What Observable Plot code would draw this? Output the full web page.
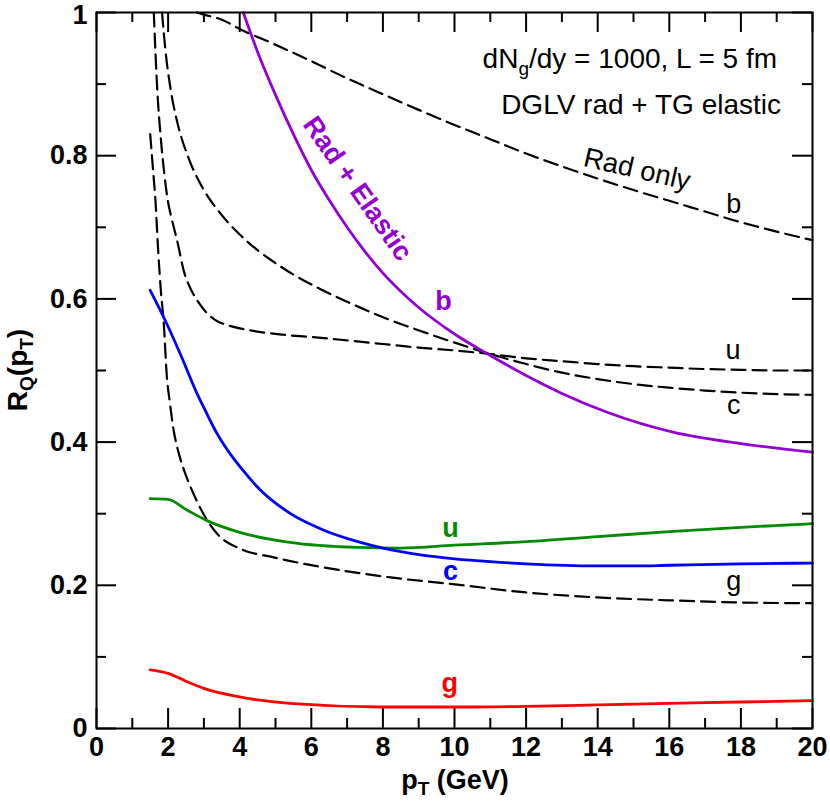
<!DOCTYPE html>
<html><head><meta charset="utf-8">
<script src="https://cdn.jsdelivr.net/npm/d3@7"></script>
<script src="https://cdn.jsdelivr.net/npm/@observablehq/plot@0.6"></script>
<style>body{margin:0;background:#fff} svg{display:block}</style>
</head><body><div id="chart"></div>
<script>
// ---- tick values ----
const xMajorTicks = [0, 2, 4, 6, 8, 10, 12, 14, 16, 18, 20];
const xMinorTicks = [1, 3, 5, 7, 9, 11, 13, 15, 17, 19];
const yMajorTicks = [0, 0.2, 0.4, 0.6, 0.8];
const yTopTick = [1];
const yMinorTicks = [0.1, 0.3, 0.5, 0.7, 0.9];

// ---- Rad only (dashed) ----
const radB_x = [2.8, 3.0, 3.5, 4, 5, 6, 7, 8, 9, 10, 11, 12, 13, 14, 15, 16, 17, 18, 19, 20];
const radB_y = [1.0, 0.997, 0.99, 0.977, 0.955, 0.932, 0.908, 0.886, 0.864, 0.843, 0.823, 0.803, 0.785, 0.768, 0.752, 0.737, 0.722, 0.707, 0.694, 0.682];

const radU_x = [1.6, 1.7, 1.8, 1.9, 2.0, 2.1, 2.25, 2.45, 2.65, 2.85, 3.05, 3.3, 3.75, 4.3, 5.2, 6.2, 7, 8, 9, 10, 11, 12, 13, 14, 15, 16, 17, 18, 19, 20];
const radU_y = [1.0, 0.89, 0.822, 0.772, 0.735, 0.712, 0.682, 0.637, 0.612, 0.595, 0.582, 0.571, 0.562, 0.556, 0.55, 0.546, 0.542, 0.537, 0.532, 0.528, 0.523, 0.517, 0.513, 0.509, 0.506, 0.504, 0.502, 0.501, 0.500, 0.500];

const radC_x = [1.83, 1.93, 2.07, 2.26, 2.57, 3.0, 3.5, 4.0, 4.5, 5.0, 5.5, 6.16, 7.09, 8.02, 8.95, 9.88, 10.8, 12, 13, 14, 15, 16, 17, 18, 19, 20];
const radC_y = [1.0, 0.945, 0.893, 0.846, 0.797, 0.752, 0.717, 0.690, 0.668, 0.650, 0.634, 0.616, 0.594, 0.574, 0.557, 0.541, 0.526, 0.509, 0.497, 0.488, 0.481, 0.476, 0.472, 0.469, 0.467, 0.466];

const radG_x = [1.5, 1.58, 1.65, 1.72, 1.8, 1.88, 1.96, 2.05, 2.15, 2.3, 2.45, 2.63, 2.83, 3.04, 3.37, 4.02, 4.95, 6.35, 8.21, 9.89, 12, 14, 16, 18, 20];
const radG_y = [0.83, 0.78, 0.735, 0.67, 0.61, 0.565, 0.495, 0.455, 0.418, 0.384, 0.36, 0.337, 0.315, 0.295, 0.272, 0.251, 0.239, 0.225, 0.211, 0.202, 0.190, 0.183, 0.179, 0.176, 0.175];

// ---- Rad + Elastic (solid) ----
const elB_x = [4.1, 4.5, 5.0, 5.5, 6.0, 6.5, 7.0, 7.5, 8.0, 9.0, 10, 11, 12, 13, 14.3, 16.1, 18, 20];
const elB_y = [1.0, 0.945, 0.885, 0.83, 0.78, 0.738, 0.700, 0.666, 0.636, 0.588, 0.551, 0.521, 0.493, 0.468, 0.441, 0.414, 0.398, 0.386];

const elC_x = [1.5, 1.88, 2.35, 2.77, 3.0, 3.3, 3.55, 3.8, 4.02, 4.5, 5.42, 6.35, 7.3, 8.0, 8.5, 9.1, 10, 11, 12, 14, 15, 16, 18, 20];
const elC_y = [0.612, 0.574, 0.522, 0.472, 0.448, 0.418, 0.397, 0.379, 0.365, 0.337, 0.30, 0.277, 0.261, 0.252, 0.247, 0.242, 0.237, 0.233, 0.230, 0.227, 0.227, 0.228, 0.230, 0.231];

const elU_x = [1.5, 2.0, 2.5, 3.1, 4.0, 5.4, 7.3, 8.5, 10, 12, 14, 16, 18, 20];
const elU_y = [0.321, 0.320, 0.306, 0.29, 0.274, 0.26, 0.253, 0.252, 0.256, 0.261, 0.268, 0.275, 0.281, 0.286];

const elG_x = [1.5, 2.0, 2.5, 3.0, 4.0, 5.4, 8, 10, 12, 14, 16, 18, 20];
const elG_y = [0.082, 0.077, 0.066, 0.056, 0.044, 0.035, 0.030, 0.030, 0.031, 0.033, 0.035, 0.037, 0.039];

// ---- curve labels ----
const solidLabelText = ["b", "u", "c", "g"];
const solidLabelX = [9.69, 9.89, 9.89, 9.87];
const solidLabelY = [0.596, 0.280, 0.220, 0.063];
const dashLabelText = ["b", "u", "c", "g"];
const dashLabelX = [17.8, 17.78, 17.8, 17.8];
const dashLabelY = [0.732, 0.528, 0.452, 0.206];

const PURPLE = "#9400D3", BLUE = "#0000FF", GREEN = "#008B00", RED = "#FF0000";
const solidColors = [PURPLE, GREEN, BLUE, RED];

const rows = (xs, ys) => xs.map((x, i) => ({x, y: ys[i]}));
const W = 830, H = 805, ML = 96, MR = 18, MT = 12, MB = 77;
const innerW = W - ML - MR, innerH = H - MT - MB;
const FONT = "'Liberation Sans', Arial, Helvetica, sans-serif";

const dashed = {stroke: "black", strokeWidth: 2.2, strokeDasharray: "14,7", curve: "monotone-x"};
const solid = (c) => ({stroke: c, strokeWidth: 2.8, curve: "monotone-x"});

const solidLabels = solidLabelText.map((t, i) => ({t, x: solidLabelX[i], y: solidLabelY[i], c: solidColors[i]}));
const dashLabels = dashLabelText.map((t, i) => ({t, x: dashLabelX[i], y: dashLabelY[i]}));

const tickFont = {tickSize: 0, tickFormat: d => String(d), fontSize: 27, fontWeight: "bold", label: null};

const plot = Plot.plot({
  width: W, height: H,
  marginLeft: ML, marginRight: MR, marginTop: MT, marginBottom: MB,
  style: {fontFamily: FONT, background: "white", color: "black", overflow: "visible"},
  x: {domain: [0, 20]},
  y: {domain: [0, 1]},
  marks: [
    Plot.axisX({ticks: xMajorTicks, tickPadding: 8, ...tickFont}),
    Plot.axisY({ticks: yMajorTicks, tickPadding: 9, ...tickFont}),
    Plot.axisY({ticks: yTopTick, tickPadding: 9, dy: 3, ...tickFont}),
    // inward ticks on all four sides
    Plot.tickX(xMajorTicks, {x: d => d, insetTop: innerH - 20, stroke: "black", strokeWidth: 2}),
    Plot.tickX(xMajorTicks, {x: d => d, insetBottom: innerH - 20, stroke: "black", strokeWidth: 2}),
    Plot.tickX(xMinorTicks, {x: d => d, insetTop: innerH - 10, stroke: "black", strokeWidth: 2}),
    Plot.tickX(xMinorTicks, {x: d => d, insetBottom: innerH - 10, stroke: "black", strokeWidth: 2}),
    Plot.tickY(yMajorTicks.concat(yTopTick), {y: d => d, insetRight: innerW - 20, stroke: "black", strokeWidth: 2}),
    Plot.tickY(yMajorTicks.concat(yTopTick), {y: d => d, insetLeft: innerW - 20, stroke: "black", strokeWidth: 2}),
    Plot.tickY(yMinorTicks, {y: d => d, insetRight: innerW - 10, stroke: "black", strokeWidth: 2}),
    Plot.tickY(yMinorTicks, {y: d => d, insetLeft: innerW - 10, stroke: "black", strokeWidth: 2}),
    // Rad only
    Plot.line(rows(radB_x, radB_y), {x: "x", y: "y", ...dashed}),
    Plot.line(rows(radU_x, radU_y), {x: "x", y: "y", ...dashed}),
    Plot.line(rows(radC_x, radC_y), {x: "x", y: "y", ...dashed}),
    Plot.line(rows(radG_x, radG_y), {x: "x", y: "y", ...dashed}),
    // Rad + Elastic
    Plot.line(rows(elB_x, elB_y), {x: "x", y: "y", ...solid(PURPLE)}),
    Plot.line(rows(elU_x, elU_y), {x: "x", y: "y", ...solid(GREEN)}),
    Plot.line(rows(elC_x, elC_y), {x: "x", y: "y", ...solid(BLUE)}),
    Plot.line(rows(elG_x, elG_y), {x: "x", y: "y", ...solid(RED)}),
    Plot.frame({stroke: "black", strokeWidth: 2}),
    // labels
    Plot.text(solidLabels, {x: "x", y: "y", text: "t", fill: "c", fontSize: 27, fontWeight: "bold"}),
    Plot.text(dashLabels, {x: "x", y: "y", text: "t", fill: "black", fontSize: 27}),
    Plot.text(["Rad + Elastic"], {x: 7.29, y: 0.754, text: d => d, rotate: 55, fill: PURPLE, fontSize: 27, fontWeight: "bold"}),
    Plot.text(["Rad only"], {x: 15.1, y: 0.781, text: d => d, rotate: 13, fill: "black", fontSize: 27.5})
  ]
});

document.getElementById("chart").appendChild(plot);
const svg = d3.select(plot);

// x-axis title: p_T (GeV)
const xt = svg.append("text").attr("x", 455).attr("y", 789).attr("text-anchor", "middle")
  .attr("font-family", FONT).attr("font-size", 27).attr("font-weight", "bold").attr("fill", "black");
xt.append("tspan").text("p");
xt.append("tspan").attr("font-size", 19).attr("dy", 6).text("T");
xt.append("tspan").attr("dy", -6).text(" (GeV)");

// y-axis title: R_Q(p_T)
const yt = svg.append("text").attr("transform", "translate(27,370) rotate(-90)").attr("text-anchor", "middle")
  .attr("font-family", FONT).attr("font-size", 28).attr("font-weight", "bold").attr("fill", "black");
yt.append("tspan").text("R");
yt.append("tspan").attr("font-size", 19).attr("dy", 6).text("Q");
yt.append("tspan").attr("dy", -6).text("(p");
yt.append("tspan").attr("font-size", 19).attr("dy", 6).text("T");
yt.append("tspan").attr("dy", -6).text(")");

// annotation
const a1 = svg.append("text").attr("x", 777).attr("y", 68).attr("text-anchor", "end")
  .attr("font-family", FONT).attr("font-size", 28).attr("fill", "black");
a1.append("tspan").text("dN");
a1.append("tspan").attr("font-size", 19).attr("dy", 7).text("g");
a1.append("tspan").attr("dy", -7).text("/dy = 1000, L = 5 fm");
svg.append("text").attr("x", 781).attr("y", 114).attr("text-anchor", "end")
  .attr("font-family", FONT).attr("font-size", 28).attr("fill", "black")
  .text("DGLV rad + TG elastic");
</script>
</body></html>
